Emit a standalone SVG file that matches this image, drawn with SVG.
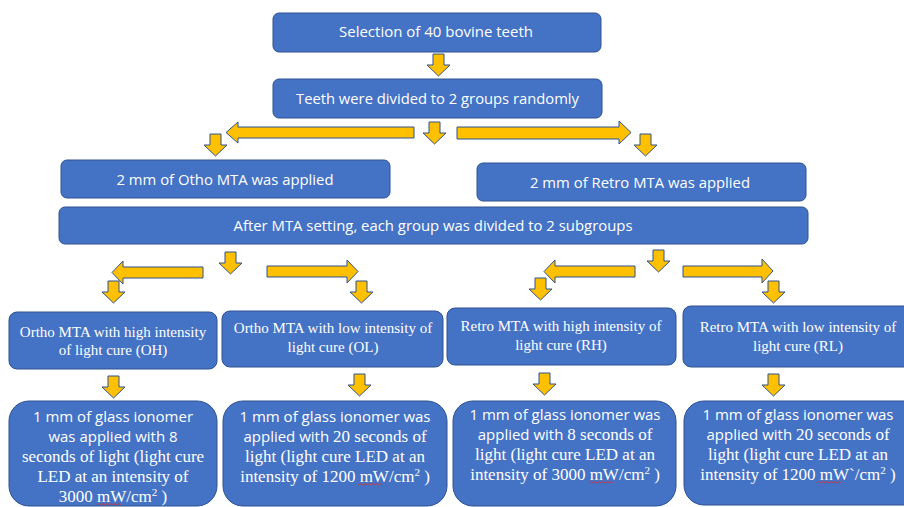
<svg xmlns="http://www.w3.org/2000/svg" width="904" height="507" viewBox="0 0 904 507">
<style>
.box{fill:#4472C4;stroke:#2F528F;stroke-width:1}
.arr{fill:#FFC000;stroke:#2F528F;stroke-width:1;stroke-linejoin:miter}
.s{font-family:"Open Sans","Liberation Sans",sans-serif;font-size:15px;fill:#fff;text-anchor:middle}
.t{font-family:"Liberation Serif","Times New Roman",serif;font-size:15px;fill:#fff;text-anchor:middle}
.b{font-family:"Liberation Serif","Times New Roman",serif;font-size:17px;fill:#fff;text-anchor:middle}
.bs{font-family:"Open Sans","Liberation Sans",sans-serif;font-size:15px}
.sq{fill:none;stroke:#e03030;stroke-width:0.8}
</style>
<defs>
<path id="da" d="M6,0 H17 V11 H23 L11.5,22 L0,11 H6 Z"/>
</defs>
<rect width="904" height="507" fill="#fff"/>
<g id="connectors">
<use href="#da" class="arr" x="427" y="54"/>
<use href="#da" class="arr" x="423" y="122"/>
<polygon class="arr" points="414,127 238,127 238,122 226,132.5 238,143 238,138 414,138"/>
<polygon class="arr" points="457,127 619,127 619,121 631,132.5 619,144 619,139 457,139"/>
<use href="#da" class="arr" x="204" y="134"/>
<use href="#da" class="arr" x="634" y="134"/>
<use href="#da" class="arr" x="219" y="252"/>
<polygon class="arr" points="203,267 123,267 123,261 112,272.5 123,284 123,278 203,278"/>
<polygon class="arr" points="267,266 347,266 347,260 358,271.5 347,283 347,277 267,277"/>
<use href="#da" class="arr" x="102" y="281"/>
<use href="#da" class="arr" x="350" y="281"/>
<use href="#da" class="arr" x="647" y="250"/>
<polygon class="arr" points="635,266 555,266 555,260 544,271.5 555,283 555,277 635,277"/>
<polygon class="arr" points="683,266 762,266 762,259 773,271 762,283 762,277 683,277"/>
<use href="#da" class="arr" x="529" y="278"/>
<use href="#da" class="arr" x="762" y="281"/>
<use href="#da" class="arr" x="102" y="376"/>
<use href="#da" class="arr" x="348" y="374"/>
<use href="#da" class="arr" x="533" y="373"/>
<use href="#da" class="arr" x="762" y="374"/>
</g>
<g id="n1">
<rect class="box" x="273" y="13" width="328" height="39" rx="6"/>
<text class="s" x="436" y="37" textLength="194" lengthAdjust="spacingAndGlyphs">Selection of 40 bovine teeth</text>
</g>
<g id="n2">
<rect class="box" x="273" y="79" width="329" height="39" rx="6"/>
<text class="s" x="437.5" y="104" textLength="283" lengthAdjust="spacingAndGlyphs">Teeth were divided to 2 groups randomly</text>
</g>
<g id="n3">
<rect class="box" x="61" y="160" width="329" height="38" rx="6"/>
<text class="s" x="225" y="185" textLength="217" lengthAdjust="spacingAndGlyphs">2 mm of Otho MTA was applied</text>
</g>
<g id="n4">
<rect class="box" x="477" y="163" width="329" height="38" rx="6"/>
<text class="s" x="640" y="188" textLength="220" lengthAdjust="spacingAndGlyphs">2 mm of Retro MTA was applied</text>
</g>
<g id="n5">
<rect class="box" x="59" y="207" width="749" height="37" rx="6"/>
<text class="s" x="433" y="231" textLength="399" lengthAdjust="spacingAndGlyphs">After MTA setting, each group was divided to 2 subgroups</text>
</g>
<g id="n6">
<rect class="box" x="9" y="312" width="208" height="57" rx="8"/>
<text class="t" x="113" y="337">Ortho MTA with high intensity</text>
<text class="t" x="113" y="355">of light cure (OH)</text>
</g>
<g id="n7">
<rect class="box" x="222" y="311" width="221" height="56" rx="8"/>
<text class="t" x="333" y="333">Ortho MTA with low intensity of</text>
<text class="t" x="333" y="352">light cure (OL)</text>
</g>
<g id="n8">
<rect class="box" x="447" y="308" width="229" height="57" rx="8"/>
<text class="t" x="561" y="331">Retro MTA with high intensity of</text>
<text class="t" x="561" y="350">light cure (RH)</text>
</g>
<g id="n9">
<rect class="box" x="683" y="306" width="240" height="61" rx="8"/>
<text class="t" x="798" y="332">Retro MTA with low intensity of</text>
<text class="t" x="798" y="351">light cure (RL)</text>
</g>
<g id="n10">
<rect class="box" x="9" y="401" width="208" height="105" rx="20"/>
<text class="b" x="113" y="422"><tspan class="bs">1 mm of glass ionomer</tspan></text>
<text class="b" x="113" y="442"><tspan class="bs">was applied with 8</tspan></text>
<text class="b" x="113" y="462">seconds of light (light cure</text>
<text class="b" x="113" y="482">LED at an intensity of</text>
<text class="b" x="113" y="502">3000 mW/cm<tspan font-size="11" dy="-6">2</tspan><tspan dy="6"> )</tspan></text>
<path class="sq" d="M97,505 l2,-1.5 l2,1.5 l2,-1.5 l2,1.5 l2,-1.5 l2,1.5 l2,-1.5 l2,1.5 l2,-1.5 l2,1.5 l2,-1.5 l2,1.5"/>
</g>
<g id="n11">
<rect class="box" x="223" y="401" width="224" height="105" rx="20"/>
<text class="b" x="335" y="422"><tspan class="bs">1 mm of glass ionomer was</tspan></text>
<text class="b" x="335" y="442"><tspan class="bs">applied with </tspan>20 seconds of</text>
<text class="b" x="335" y="462">light (light cure LED at an</text>
<text class="b" x="335" y="482">intensity of 1200 mW/cm<tspan font-size="11" dy="-6">2</tspan><tspan dy="6"> )</tspan></text>
<path class="sq" d="M358,485 l2,-1.5 l2,1.5 l2,-1.5 l2,1.5 l2,-1.5 l2,1.5 l2,-1.5 l2,1.5 l2,-1.5 l2,1.5 l2,-1.5 l2,1.5"/>
</g>
<g id="n12">
<rect class="box" x="453" y="401" width="223" height="105" rx="20"/>
<text class="b" x="565" y="420"><tspan class="bs">1 mm of glass ionomer was</tspan></text>
<text class="b" x="565" y="440"><tspan class="bs">applied with </tspan>8 seconds of</text>
<text class="b" x="565" y="460">light (light cure LED at an</text>
<text class="b" x="565" y="480">intensity of 3000 mW/cm<tspan font-size="11" dy="-6">2</tspan><tspan dy="6"> )</tspan></text>
<path class="sq" d="M589,483 l2,-1.5 l2,1.5 l2,-1.5 l2,1.5 l2,-1.5 l2,1.5 l2,-1.5 l2,1.5 l2,-1.5 l2,1.5 l2,-1.5 l2,1.5"/>
</g>
<g id="n13">
<rect class="box" x="684" y="401" width="240" height="104" rx="20"/>
<text class="b" x="798" y="420"><tspan class="bs">1 mm of glass ionomer was</tspan></text>
<text class="b" x="798" y="440"><tspan class="bs">applied with </tspan>20 seconds of</text>
<text class="b" x="798" y="460">light (light cure LED at an</text>
<text class="b" x="798" y="480">intensity of 1200 mW`/cm<tspan font-size="11" dy="-6">2</tspan><tspan dy="6"> )</tspan></text>
<path class="sq" d="M817,483 l2,-1.5 l2,1.5 l2,-1.5 l2,1.5 l2,-1.5 l2,1.5 l2,-1.5 l2,1.5 l2,-1.5 l2,1.5 l2,-1.5 l2,1.5"/>
</g>
</svg>
